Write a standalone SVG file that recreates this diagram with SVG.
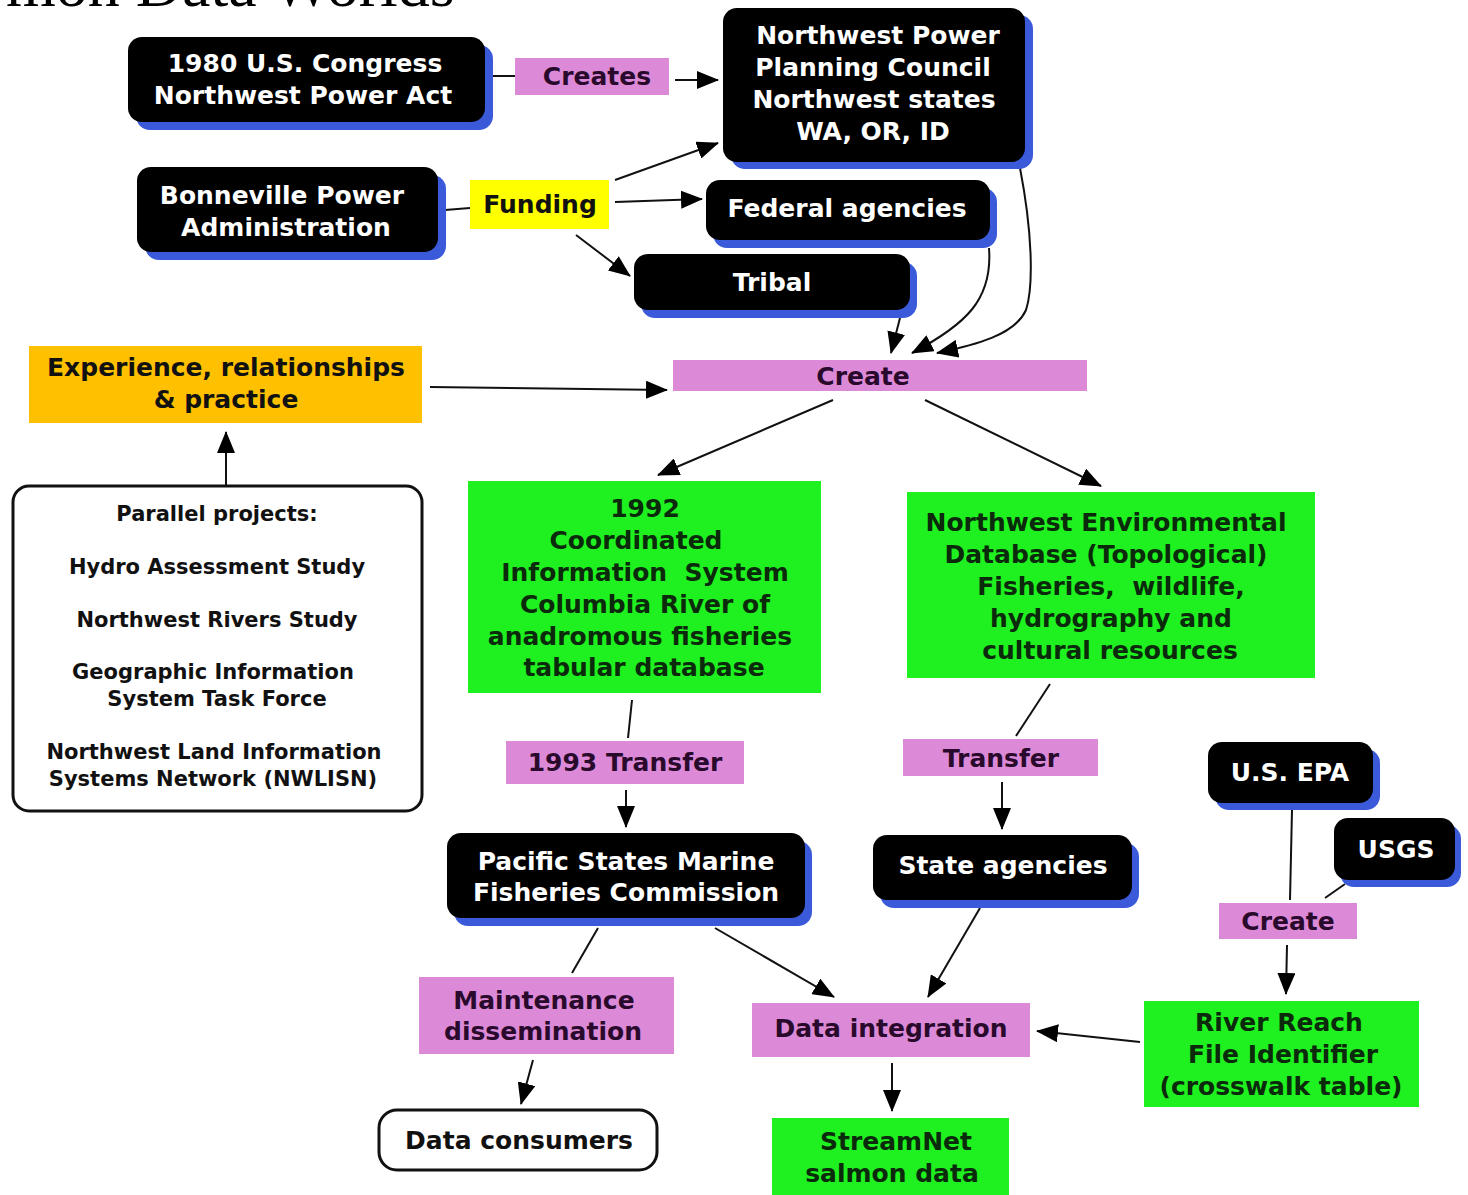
<svg xmlns="http://www.w3.org/2000/svg" width="1468" height="1195" viewBox="0 0 1468 1195">
<defs>
<marker id="ah" viewBox="0 0 22 18" refX="21" refY="9" markerWidth="22" markerHeight="18" orient="auto" markerUnits="userSpaceOnUse"><path d="M0,0 L22,9 L0,18 z" fill="#000"/></marker>
<style>
text{font-family:"DejaVu Sans","Verdana",sans-serif;font-weight:bold;font-size:25px;text-anchor:middle}
.pre{white-space:pre}
.sh{fill:#3a5ada}
.bk{fill:#000}
.wt{fill:#fff}
.pk{fill:#dc8ad8}
.pt{fill:#2a0a2c}
.gr{fill:#1ff01f}
.gt{fill:#0b2a0b}
.dk{fill:#111}
.sm{font-size:21px}
.ln{fill:none;stroke:#111;stroke-width:2}
.ar{fill:none;stroke:#111;stroke-width:2;marker-end:url(#ah)}
.title{font-family:"Liberation Serif",serif;font-weight:normal;font-size:64px;text-anchor:start;fill:#000}
</style>
</defs>
<rect width="1468" height="1195" fill="#fff"/>
<text class="title" x="6" y="6">mon Data Worlds</text>

<g id="connectors">
<line class="ln" x1="485" y1="76" x2="515" y2="76"/>
<line class="ar" x1="675" y1="80" x2="718" y2="80"/>
<line class="ln" x1="445" y1="210" x2="470" y2="208"/>
<line class="ar" x1="615" y1="180" x2="718" y2="143"/>
<line class="ar" x1="615" y1="202" x2="702" y2="199"/>
<line class="ar" x1="576" y1="235" x2="630" y2="276"/>
<line class="ar" x1="900" y1="318" x2="891" y2="353"/>
<path class="ar" d="M989,248 C993,300 965,325 912,353"/>
<path class="ar" d="M1020,168 C1032,230 1034,285 1026,310 C1015,335 975,345 937,353"/>
<line class="ar" x1="430" y1="387" x2="667" y2="390"/>
<line class="ar" x1="226" y1="486" x2="226" y2="432"/>
<line class="ar" x1="833" y1="400" x2="658" y2="475"/>
<line class="ar" x1="925" y1="400" x2="1101" y2="486"/>
<line class="ln" x1="632" y1="700" x2="628" y2="738"/>
<line class="ar" x1="626" y1="790" x2="626" y2="827"/>
<line class="ln" x1="1050" y1="684" x2="1016" y2="736"/>
<line class="ar" x1="1002" y1="782" x2="1002" y2="829"/>
<line class="ln" x1="1292" y1="810" x2="1290" y2="900"/>
<line class="ln" x1="1345" y1="884" x2="1325" y2="898"/>
<line class="ar" x1="1287" y1="945" x2="1286" y2="994"/>
<line class="ar" x1="1140" y1="1042" x2="1037" y2="1031"/>
<line class="ar" x1="715" y1="928" x2="834" y2="997"/>
<line class="ar" x1="980" y1="908" x2="928" y2="997"/>
<line class="ar" x1="892" y1="1063" x2="892" y2="1111"/>
<line class="ln" x1="598" y1="928" x2="572" y2="973"/>
<line class="ar" x1="533" y1="1060" x2="521" y2="1104"/>
</g>

<g id="congress">
<rect class="sh" x="136" y="45" width="357" height="85" rx="14"/>
<rect class="bk" x="128" y="37" width="357" height="85" rx="14"/>
<text class="wt" x="305" y="72">1980 U.S. Congress</text>
<text class="wt" x="303" y="104">Northwest Power Act</text>
</g>
<g id="creates">
<rect class="pk" x="515" y="58" width="154" height="37"/>
<text class="pt" x="597" y="85">Creates</text>
</g>
<g id="nppc">
<rect class="sh" x="731" y="15" width="302" height="154" rx="14"/>
<rect class="bk" x="723" y="8" width="302" height="154" rx="14"/>
<text class="wt" x="878" y="44">Northwest Power</text>
<text class="wt" x="873" y="76">Planning Council</text>
<text class="wt" x="874" y="108">Northwest states</text>
<text class="wt" x="873" y="140">WA, OR, ID</text>
</g>
<g id="bonneville">
<rect class="sh" x="145" y="175" width="301" height="85" rx="14"/>
<rect class="bk" x="137" y="167" width="301" height="85" rx="14"/>
<text class="wt" x="282" y="204">Bonneville Power</text>
<text class="wt" x="286" y="236">Administration</text>
</g>
<g id="funding">
<rect fill="#ffff00" x="470" y="180" width="139" height="49"/>
<text class="dk" x="540" y="213">Funding</text>
</g>
<g id="federal">
<rect class="sh" x="713" y="188" width="284" height="60" rx="14"/>
<rect class="bk" x="706" y="180" width="284" height="60" rx="14"/>
<text class="wt" x="847" y="217">Federal agencies</text>
</g>
<g id="tribal">
<rect class="sh" x="641" y="262" width="276" height="56" rx="14"/>
<rect class="bk" x="634" y="254" width="276" height="56" rx="14"/>
<text class="wt" x="772" y="291">Tribal</text>
</g>
<g id="create-main">
<rect class="pk" x="673" y="360" width="414" height="31"/>
<text class="pt" x="863" y="385">Create</text>
</g>
<g id="experience">
<rect fill="#ffc000" x="29" y="346" width="393" height="77"/>
<text class="dk" x="226" y="376">Experience, relationships</text>
<text class="dk" x="226" y="408">&amp; practice</text>
</g>
<g id="parallel">
<rect x="13" y="486" width="409" height="325" rx="16" fill="#fff" stroke="#111" stroke-width="3"/>
<text class="dk sm" x="217" y="521">Parallel projects:</text>
<text class="dk sm" x="217" y="574">Hydro Assessment Study</text>
<text class="dk sm" x="217" y="627">Northwest Rivers Study</text>
<text class="dk sm" x="213" y="679">Geographic Information</text>
<text class="dk sm" x="217" y="706">System Task Force</text>
<text class="dk sm" x="214" y="759">Northwest Land Information</text>
<text class="dk sm" x="213" y="786">Systems Network (NWLISN)</text>
</g>
<g id="cis1992">
<rect class="gr" x="468" y="481" width="353" height="212"/>
<text class="gt" x="645" y="517">1992</text>
<text class="gt" x="636" y="549">Coordinated</text>
<text class="gt pre" x="645" y="581">Information  System</text>
<text class="gt" x="645" y="613">Columbia River of</text>
<text class="gt" x="640" y="645">anadromous fisheries</text>
<text class="gt" x="644" y="676">tabular database</text>
</g>
<g id="nwenv">
<rect class="gr" x="907" y="492" width="408" height="186"/>
<text class="gt" x="1106" y="531">Northwest Environmental</text>
<text class="gt" x="1106" y="563">Database (Topological)</text>
<text class="gt pre" x="1111" y="595">Fisheries,  wildlife,</text>
<text class="gt" x="1111" y="627">hydrography and</text>
<text class="gt" x="1110" y="659">cultural resources</text>
</g>
<g id="transfer1993">
<rect class="pk" x="506" y="741" width="238" height="43"/>
<text class="pt" x="625" y="771">1993 Transfer</text>
</g>
<g id="transfer">
<rect class="pk" x="903" y="739" width="195" height="37"/>
<text class="pt" x="1001" y="767">Transfer</text>
</g>
<g id="psmfc">
<rect class="sh" x="454" y="841" width="358" height="85" rx="14"/>
<rect class="bk" x="447" y="833" width="358" height="85" rx="14"/>
<text class="wt" x="626" y="870">Pacific States Marine</text>
<text class="wt" x="626" y="901">Fisheries Commission</text>
</g>
<g id="state">
<rect class="sh" x="880" y="843" width="259" height="65" rx="14"/>
<rect class="bk" x="873" y="835" width="259" height="65" rx="14"/>
<text class="wt" x="1003" y="874">State agencies</text>
</g>
<g id="epa">
<rect class="sh" x="1215" y="749" width="165" height="61" rx="14"/>
<rect class="bk" x="1208" y="742" width="165" height="61" rx="14"/>
<text class="wt" x="1290" y="781">U.S. EPA</text>
</g>
<g id="usgs">
<rect class="sh" x="1340" y="825" width="121" height="62" rx="14"/>
<rect class="bk" x="1334" y="818" width="121" height="62" rx="14"/>
<text class="wt" x="1396" y="858">USGS</text>
</g>
<g id="create-small">
<rect class="pk" x="1219" y="903" width="138" height="36"/>
<text class="pt" x="1288" y="930">Create</text>
</g>
<g id="riverreach">
<rect class="gr" x="1144" y="1001" width="275" height="106"/>
<text class="gt" x="1279" y="1031">River Reach</text>
<text class="gt" x="1283" y="1063">File Identifier</text>
<text class="gt" x="1281" y="1095">(crosswalk table)</text>
</g>
<g id="integration">
<rect class="pk" x="752" y="1003" width="278" height="54"/>
<text class="pt" x="891" y="1037">Data integration</text>
</g>
<g id="streamnet">
<rect class="gr" x="772" y="1118" width="237" height="80"/>
<text class="gt" x="896" y="1150">StreamNet</text>
<text class="gt" x="892" y="1182">salmon data</text>
</g>
<g id="maintenance">
<rect class="pk" x="419" y="977" width="255" height="77"/>
<text class="pt" x="544" y="1009">Maintenance</text>
<text class="pt" x="543" y="1040">dissemination</text>
</g>
<g id="consumers">
<rect x="379" y="1110" width="278" height="60" rx="18" fill="#fff" stroke="#111" stroke-width="3"/>
<text class="dk" x="519" y="1149">Data consumers</text>
</g>
</svg>
